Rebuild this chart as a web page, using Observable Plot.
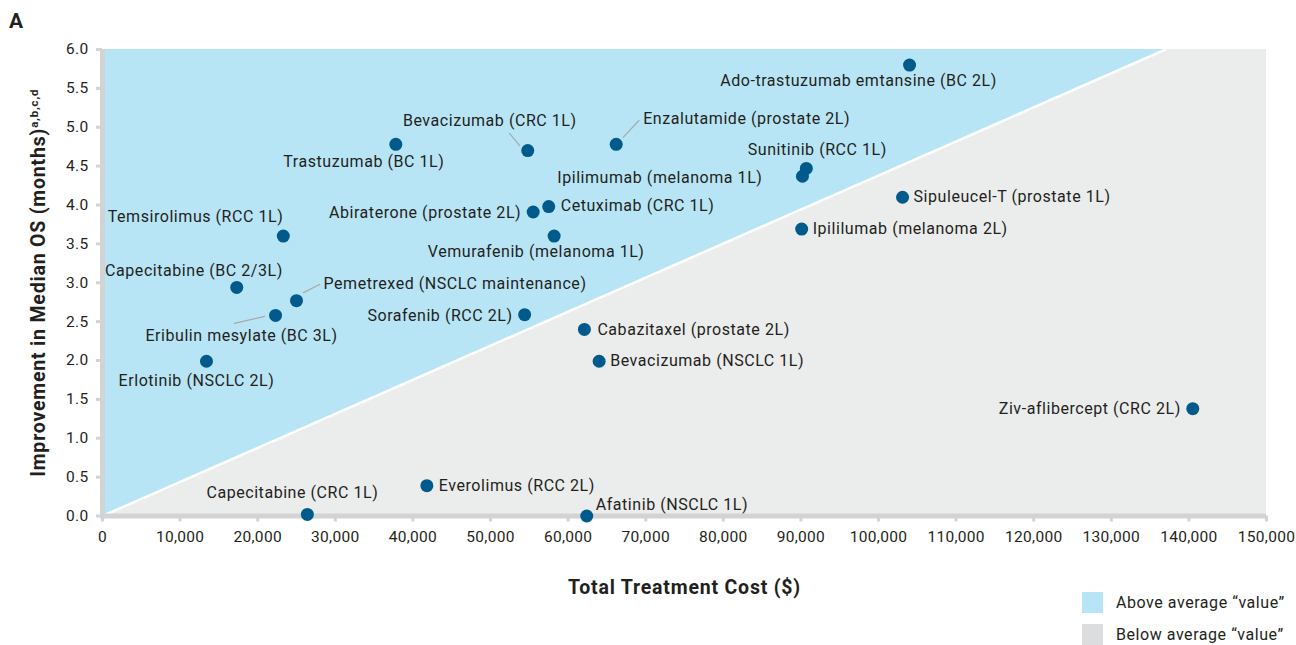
<!DOCTYPE html>
<html>
<head>
<meta charset="utf-8">
<script src="https://cdn.jsdelivr.net/npm/d3@7"></script>
<script src="https://cdn.jsdelivr.net/npm/@observablehq/plot@0.6"></script>
<style>
  html, body { margin: 0; padding: 0; background: #fff; }
  #wrap { position: relative; width: 1296px; height: 645px; font-family: Roboto, "Noto Sans", sans-serif; color: #231f20; }
  #panel { position: absolute; left: 9px; top: 9px; font-weight: 700; font-size: 21px; }
  #legend { position: absolute; left: 1082px; top: 592px; font-size: 16px; letter-spacing: 0.55px; }
  .item { display: flex; align-items: center; height: 21px; margin-bottom: 11px; }
  .sw { width: 21px; height: 21px; margin-right: 13px; }
  .lbl text { letter-spacing: 0.55px; }
  .ttl text { letter-spacing: 0.8px; }
  .tk text { letter-spacing: 0.3px; }
</style>
</head>
<body>
<div id="wrap">
  <div id="chart"></div>
  <div id="panel">A</div>
  <div id="legend"></div>
</div>
<script>
// ---- data ----
const drugs = [
  "Ado-trastuzumab emtansine (BC 2L)",
  "Enzalutamide (prostate 2L)",
  "Bevacizumab (CRC 1L)",
  "Trastuzumab (BC 1L)",
  "Sunitinib (RCC 1L)",
  "Ipilimumab (melanoma 1L)",
  "Sipuleucel-T (prostate 1L)",
  "Cetuximab (CRC 1L)",
  "Abiraterone (prostate 2L)",
  "Temsirolimus (RCC 1L)",
  "Vemurafenib (melanoma 1L)",
  "Ipililumab (melanoma 2L)",
  "Capecitabine (BC 2/3L)",
  "Pemetrexed (NSCLC maintenance)",
  "Eribulin mesylate (BC 3L)",
  "Sorafenib (RCC 2L)",
  "Cabazitaxel (prostate 2L)",
  "Erlotinib (NSCLC 2L)",
  "Bevacizumab (NSCLC 1L)",
  "Ziv-aflibercept (CRC 2L)",
  "Everolimus (RCC 2L)",
  "Capecitabine (CRC 1L)",
  "Afatinib (NSCLC 1L)"
];
const totalCost = [
  104000, 66200, 54800, 37800, 90700, 90200, 103100, 57500, 55500, 23300, 58200, 90100,
  17300, 25000, 22300, 54400, 62100, 13400, 64000, 140500, 41800, 26400, 62400
];
const osImprovement = [
  5.80, 4.78, 4.70, 4.78, 4.47, 4.37, 4.10, 3.98, 3.91, 3.60, 3.60, 3.69,
  2.94, 2.77, 2.58, 2.59, 2.40, 1.99, 1.99, 1.38, 0.39, 0.02, 0.0
];
// average "value" boundary line
const boundaryCost = [0, 137000, 150000];
const boundaryOS = [0, 6, 6];
const xTicks = d3.range(0, 150001, 10000);
const yTicks = d3.range(0, 6.01, 0.5);
const xTitle = "Total Treatment Cost ($)";
const yTitle = "Improvement in Median OS (months)";
const ySup = "a,b,c,d";
const legendLabels = ["Above average \u201Cvalue\u201D", "Below average \u201Cvalue\u201D"];

// ---- label layout (pixel offsets from the dot) ----
const labelLayout = [
  ["middle", -51, 16], ["start", 27, -25], ["middle", -38, -30], ["middle", -32, 18],
  ["middle", 11, -19], ["end", -40, 2], ["start", 11, 0], ["start", 12, -1],
  ["end", -12, 1], ["end", 0, -19], ["middle", -18, 16], ["start", 11, 0],
  ["end", 46, -17], ["start", 27, -17], ["middle", -34, 20], ["end", -12, 1],
  ["start", 13, 0], ["middle", -10, 20], ["start", 11, 0], ["end", -12, 0],
  ["start", 12, 0], ["middle", -15, -22], ["start", 9, -11]
];
// leader lines: [index, startDx, startDy, length, angle]
const leaders = [
  [1, 7, -7, 23, 43],
  [2, -8, -5, 16, -40],
  [13, 7, -8, 18, 63],
  [14, -11, 1, 31, -103]
];

const points = drugs.map((name, i) => ({name, cost: totalCost[i], os: osImprovement[i]}));
const boundary = boundaryCost.map((c, i) => ({cost: c, os: boundaryOS[i]}));

const BLUE = "#b8e5f5", GREY = "#ebecec", AXIS = "#d2d3d5", DOT = "#005a8c", INK = "#231f20";

const textMarks = points.map((d, i) => Plot.text([d], {
  x: "cost", y: "os", text: "name",
  textAnchor: labelLayout[i][0], dx: labelLayout[i][1], dy: labelLayout[i][2],
  fill: INK, fontSize: 16, className: "lbl"
}));

const lineShape = { draw(context, l) { context.moveTo(0, 0); context.lineTo(0, -l); } };
const leaderMarks = leaders.map(([i, sdx, sdy, len, ang]) => Plot.vector([points[i]], {
  x: "cost", y: "os", dx: sdx, dy: sdy, length: len, rotate: ang,
  anchor: "start", shape: lineShape, stroke: "#a7a9ac", strokeWidth: 1.2
}));

const chart = Plot.plot({
  width: 1296,
  height: 645,
  marginLeft: 102,
  marginRight: 30,
  marginTop: 49,
  marginBottom: 129.5,
  style: {fontFamily: "Roboto, 'Noto Sans', sans-serif", fontSize: "15px", color: INK, background: "transparent"},
  x: {domain: [0, 150000]},
  y: {domain: [0, 6]},
  marks: [
    Plot.areaY(boundary, {x: "cost", y1: "os", y2: 6, fill: BLUE, curve: "linear"}),
    Plot.areaY(boundary, {x: "cost", y1: 0, y2: "os", fill: GREY, curve: "linear"}),
    Plot.line(boundary.slice(0, 2), {x: "cost", y: "os", stroke: "white", strokeWidth: 2.5}),
    Plot.ruleX([0], {stroke: AXIS, strokeWidth: 5, insetBottom: -3}),
    Plot.ruleY([0], {stroke: AXIS, strokeWidth: 5, insetLeft: -2}),
    Plot.axisX({ticks: xTicks, tickFormat: d3.format(","), tickSize: 6, tickPadding: 9,
      stroke: AXIS, strokeWidth: 3, fill: INK, fontSize: 15.5, label: null, className: "tk"}),
    Plot.axisY({ticks: yTicks, tickFormat: d3.format(".1f"), tickSize: 6, tickPadding: 8,
      stroke: AXIS, strokeWidth: 3, fill: INK, fontSize: 15.5, label: null, className: "tk"}),
    ...leaderMarks,
    Plot.dot(points, {x: "cost", y: "os", r: 6.5, fill: DOT}),
    ...textMarks,
    Plot.text([xTitle], {frameAnchor: "bottom", dy: 78, text: d => d, fontWeight: "bold",
      fontSize: 19.5, fill: INK, textAnchor: "middle", className: "ttl"}),
    Plot.text([yTitle], {frameAnchor: "left", dx: -64, rotate: -90, text: d => d,
      textAnchor: "middle", fontWeight: "bold", fontSize: 19.5, fill: INK, className: "ttl ytitle"})
  ]
});
document.getElementById("chart").appendChild(chart);

// superscript on the y title
d3.select(chart).selectAll(".ytitle text").each(function() {
  d3.select(this).append("tspan").attr("dy", "-0.55em").attr("font-size", "11.5px").text(ySup);
});

// legend
const legend = d3.select("#legend");
[BLUE, "#dcddde"].forEach((c, i) => {
  const item = legend.append("div").attr("class", "item");
  item.append("div").attr("class", "sw").style("background", c);
  item.append("span").text(legendLabels[i]);
});
</script>
</body>
</html>
